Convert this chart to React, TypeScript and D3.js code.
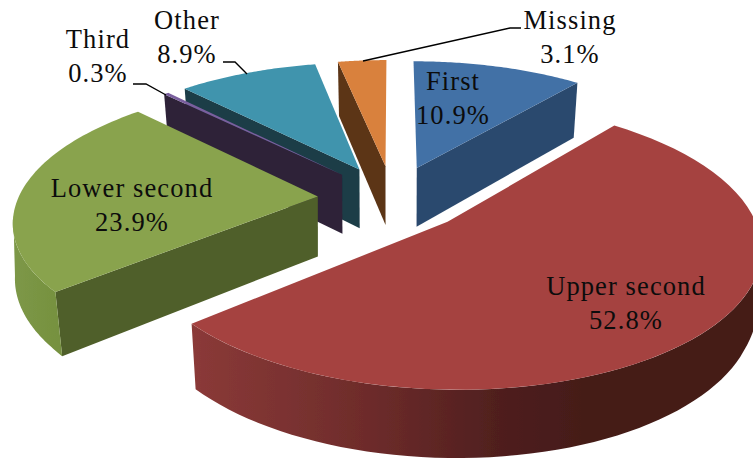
import React from "react";
import * as d3 from "d3";

const categories = ["First", "Upper second", "Lower second", "Third", "Other", "Missing"];
const shares = [10.9, 52.8, 23.9, 0.3, 8.9, 3.1];
const topColors = ["#4371a6", "#a54341", "#89a34d", "#7a5f9e", "#3f94ad", "#d9813d"];
const cutColors = ["#2c4a6e", "#6c2b2a", "#4f5f29", "#2e2339", "#1b3c47", "#5b3517"];
const drawOrder = [0, 5, 4, 3, 2, 1];
const wallStops: Record<number, [number, string][]> = {
  1: [[190, "#8b3a38"], [376, "#6c2b2a"], [500, "#4f1f1e"], [590, "#441b18"], [753, "#441b18"]],
  2: [[10, "#7d9848"], [60, "#76913f"]],
};
const labelLines = [
  ["First", "10.9%"], ["Upper second", "52.8%"], ["Lower second", "23.9%"],
  ["Third", "0.3%"], ["Other", "8.9%"], ["Missing", "3.1%"],
];
const labelAnchors = [[453, 90], [626, 295], [132, 197], [98, 48], [187, 29], [570, 29]];
const leaders: Record<number, [number, number][]> = {
  3: [[133, 84], [146, 84], [166, 95]],
  4: [[223, 62], [235, 62], [247, 74]],
  5: [[363, 61], [510, 28], [521, 28]],
};

const cx = 392.5, cy = 198, rx = 299.5, ry = 132.5, persp = 0.16, explode = 0.25, depth = 60, shrink = 0.02;
const wallFromDeg = 98, wallToDeg = 262;

type P = [number, number];

function project(X: number, Z: number, bottom: boolean): P {
  const s = 1 / (1 - persp * Z);
  const x = cx + rx * X * s;
  const y = cy + ry * Z * s;
  if (!bottom) return [x, y];
  const k = 1 - shrink * Math.min(1, Math.abs(Z) / 0.6);
  return [cx + (x - cx) * k, y + depth * (1 + (s - 1) * 0.6)];
}

const arcs = d3.pie<number>().sort(null).startAngle(0).endAngle(2 * Math.PI)(shares);
const line = d3.line<P>();

function slice(i: number) {
  const a = arcs[i];
  const mid = (a.startAngle + a.endAngle) / 2;
  const ox = explode * Math.sin(mid), oz = -explode * Math.cos(mid);
  const at = (ang: number, r: number, bottom: boolean) =>
    project(ox + r * Math.sin(ang), oz - r * Math.cos(ang), bottom);
  const range = (from: number, to: number, bottom: boolean) =>
    d3.range(0, 61).map((k) => at(from + ((to - from) * k) / 60, 1, bottom));
  const top = [at(0, 0, false), ...range(a.startAngle, a.endAngle, false)];
  const faces: { d: string; wall?: boolean }[] = [];
  const quad = (ang: number) =>
    line([at(0, 0, false), at(ang, 1, false), at(ang, 1, true), at(0, 0, true)]) + "Z";
  if (Math.sin(a.startAngle) < 0) faces.push({ d: quad(a.startAngle) });
  if (Math.sin(a.endAngle) > 0 && a.endAngle < Math.PI) faces.push({ d: quad(a.endAngle) });
  const w0 = Math.max(a.startAngle, (wallFromDeg * Math.PI) / 180);
  const w1 = Math.min(a.endAngle, (wallToDeg * Math.PI) / 180);
  if (w0 < w1) {
    faces.push({
      d: line([...range(w0, w1, false), ...range(w0, w1, true).reverse()]) + "Z",
      wall: true,
    });
  }
  return { top: line(top) + "Z", faces };
}

const fontStyle = { fontFamily: "'Liberation Serif', serif", fontSize: 26.5, letterSpacing: 1.1 };

export default function App() {
  return (
    <svg
      width={753}
      height={458}
      viewBox="0 0 753 458"
      style={{ position: "absolute", left: 0, top: 0, background: "#fff" }}
    >
      <defs>
        <filter id="soft" x="-5%" y="-5%" width="110%" height="110%">
          <feGaussianBlur stdDeviation="0.6" />
        </filter>
        {Object.entries(wallStops).map(([k, stops]) => {
          const x0 = stops[0][0];
          const x1 = stops[stops.length - 1][0];
          const t = d3.scaleLinear().domain([x0, x1]).range([0, 1]);
          return (
            <linearGradient key={k} id={`wall${k}`} gradientUnits="userSpaceOnUse" x1={x0} x2={x1} y1={0} y2={0}>
              {stops.map(([x, c]) => (
                <stop key={x} offset={t(x)} stopColor={c} />
              ))}
            </linearGradient>
          );
        })}
      </defs>
      <g filter="url(#soft)">
        {drawOrder.map((i) => {
          const s = slice(i);
          return (
            <g key={categories[i]}>
              {s.faces.map((f, j) => (
                <path key={j} d={f.d} fill={f.wall ? `url(#wall${i})` : cutColors[i]} />
              ))}
              <path d={s.top} fill={topColors[i]} />
            </g>
          );
        })}
      </g>
      {Object.entries(leaders).map(([k, pts]) => (
        <path key={k} d={line(pts) ?? ""} fill="none" stroke="#000" strokeWidth={1.4} />
      ))}
      <g style={fontStyle} textAnchor="middle" fill="#0c0c0c">
        {labelLines.map((ls, i) => (
          <text key={i} x={labelAnchors[i][0]} y={labelAnchors[i][1]}>
            <tspan x={labelAnchors[i][0]}>{ls[0]}</tspan>
            <tspan x={labelAnchors[i][0]} dy={34}>{ls[1]}</tspan>
          </text>
        ))}
      </g>
    </svg>
  );
}
